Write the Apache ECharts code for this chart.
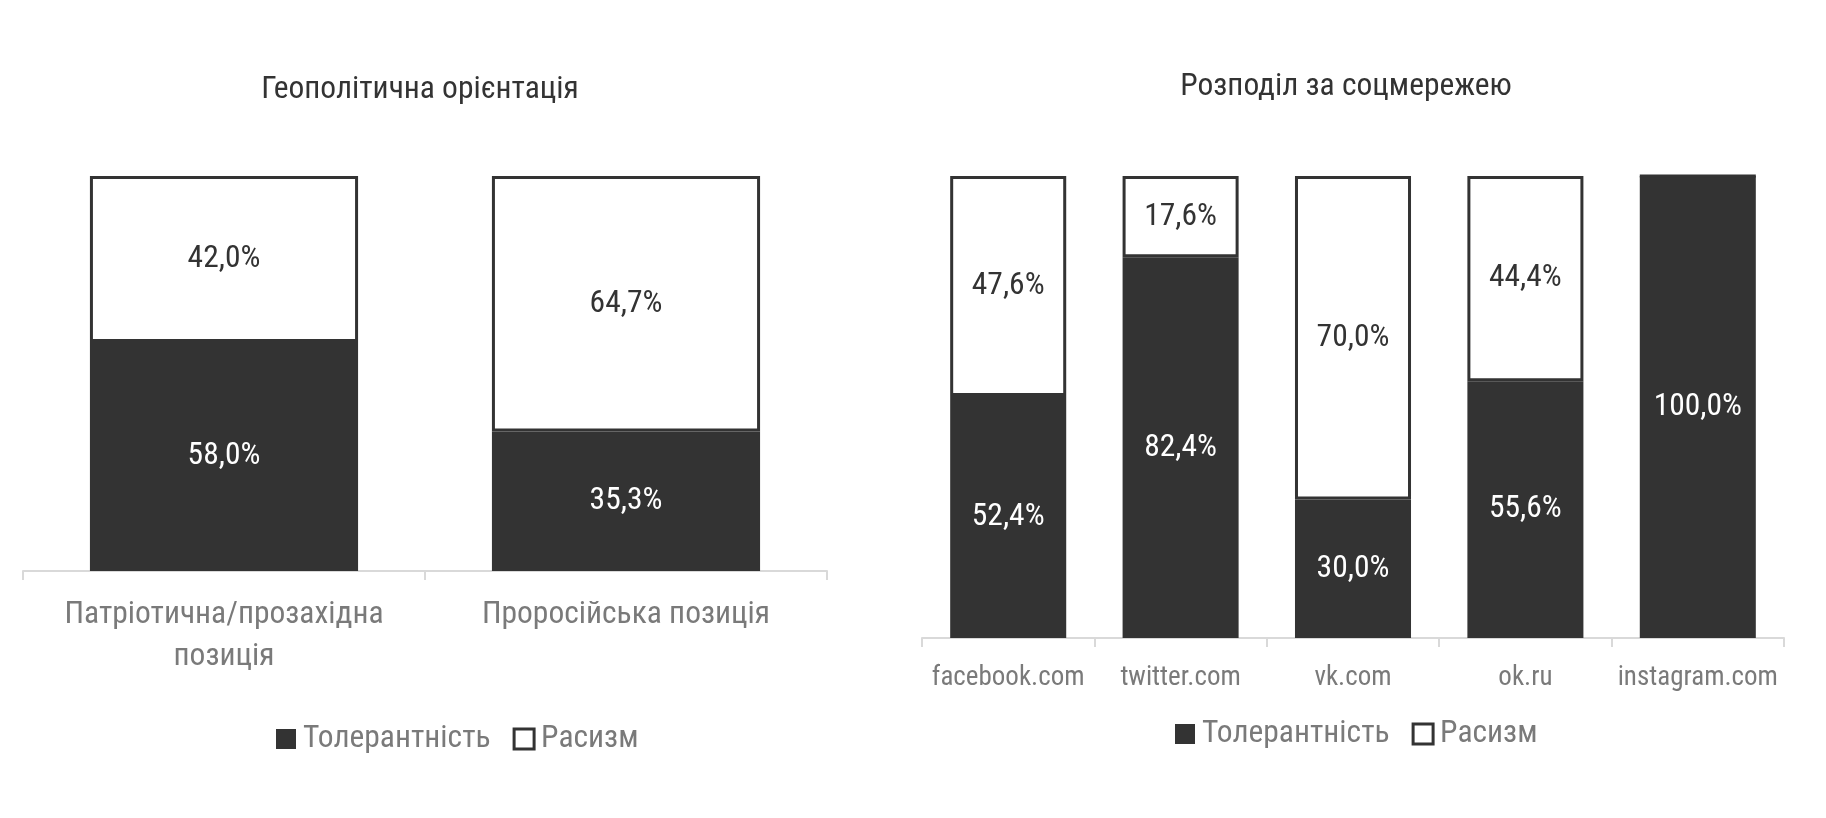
<!DOCTYPE html>
<html>
<head>
<meta charset="utf-8">
<script src="https://cdn.jsdelivr.net/npm/echarts@6/dist/echarts.min.js"></script>
<style>
  html, body { margin: 0; padding: 0; background: #fff; }
  #main { width: 1826px; height: 818px; }
</style>
</head>
<body>
<div id="main"></div>
<script>
// дані
var geoCategories = ['Патріотична/прозахідна\nпозиція', 'Проросійська позиція'];
var geoTolerance = [58.0, 35.3];
var geoRacism = [42.0, 64.7];

var netCategories = ['facebook.com', 'twitter.com', 'vk.com', 'ok.ru', 'instagram.com'];
var netTolerance = [52.4, 82.4, 30.0, 55.6, 100.0];
var netRacism = [47.6, 17.6, 70.0, 44.4, 0];

var FONT = "'Roboto Condensed', 'Liberation Sans Narrow', 'DejaVu Sans Condensed', Roboto, sans-serif";
var DARK = '#333333';
var GRAY = '#7a7a7a';
var FS = 31.5;

function pct(p) {
  if (!p.value) return '';
  return p.value.toFixed(1).replace('.', ',') + '%';
}

function xAxisOf(gridIndex, data, fontSize, margin, lineHeight) {
  return {
    type: 'category',
    gridIndex: gridIndex,
    data: data,
    axisLine: { lineStyle: { color: '#d9d9d9', width: 2 } },
    axisTick: { show: true, length: 9, lineStyle: { color: '#d9d9d9', width: 2 } },
    axisLabel: {
      color: GRAY, fontSize: fontSize, fontFamily: FONT,
      margin: margin, lineHeight: lineHeight, interval: 0
    }
  };
}

function yAxisOf(gridIndex) {
  return { type: 'value', gridIndex: gridIndex, min: 0, max: 100, show: false };
}

function darkSeries(idx, data, width) {
  return {
    name: 'Толерантність', type: 'bar', stack: 's' + idx,
    xAxisIndex: idx, yAxisIndex: idx, data: data, barWidth: width,
    itemStyle: { color: DARK },
    label: { show: true, position: 'inside', color: '#fff', fontSize: FS, fontFamily: FONT, formatter: pct }
  };
}

function whiteSeries(idx, data, width) {
  return {
    name: 'Расизм', type: 'bar', stack: 's' + idx,
    xAxisIndex: idx, yAxisIndex: idx, data: data, barWidth: width,
    itemStyle: { color: '#fff', borderColor: DARK, borderWidth: 3 },
    label: { show: true, position: 'inside', color: DARK, fontSize: FS, fontFamily: FONT, formatter: pct }
  };
}

function legendOf(left, top) {
  return {
    left: left, top: top, icon: 'rect', itemWidth: 20, itemHeight: 20, itemGap: 22,
    textStyle: { color: GRAY, fontSize: FS, fontFamily: FONT, padding: [0, 0, 0, 2] },
    data: [
      { name: 'Толерантність', itemStyle: { color: DARK } },
      { name: 'Расизм', itemStyle: { color: '#fff', borderColor: DARK, borderWidth: 3 } }
    ]
  };
}

var chart = echarts.init(document.getElementById('main'));
chart.setOption({
  backgroundColor: '#fff',
  animation: false,
  title: [
    { text: 'Геополітична орієнтація', left: 415, top: 69, textAlign: 'center',
      textStyle: { color: '#333', fontSize: FS, fontWeight: 'normal', fontFamily: FONT } },
    { text: 'Розподіл за соцмережею', left: 1341, top: 66, textAlign: 'center',
      textStyle: { color: '#333', fontSize: FS, fontWeight: 'normal', fontFamily: FONT } }
  ],
  legend: [legendOf(271, 718), legendOf(1170, 713)],
  grid: [
    { left: 23, width: 804, top: 176, bottom: 247 },
    { left: 922, width: 862, top: 176, bottom: 180 }
  ],
  xAxis: [xAxisOf(0, geoCategories, FS, 23, 42), xAxisOf(1, netCategories, 27, 24, 32)],
  yAxis: [yAxisOf(0), yAxisOf(1)],
  series: [
    darkSeries(0, geoTolerance, '66.7%'),
    whiteSeries(0, geoRacism, '66.7%'),
    darkSeries(1, netTolerance, '67.3%'),
    whiteSeries(1, netRacism, '67.3%')
  ]
});
</script>
</body>
</html>
